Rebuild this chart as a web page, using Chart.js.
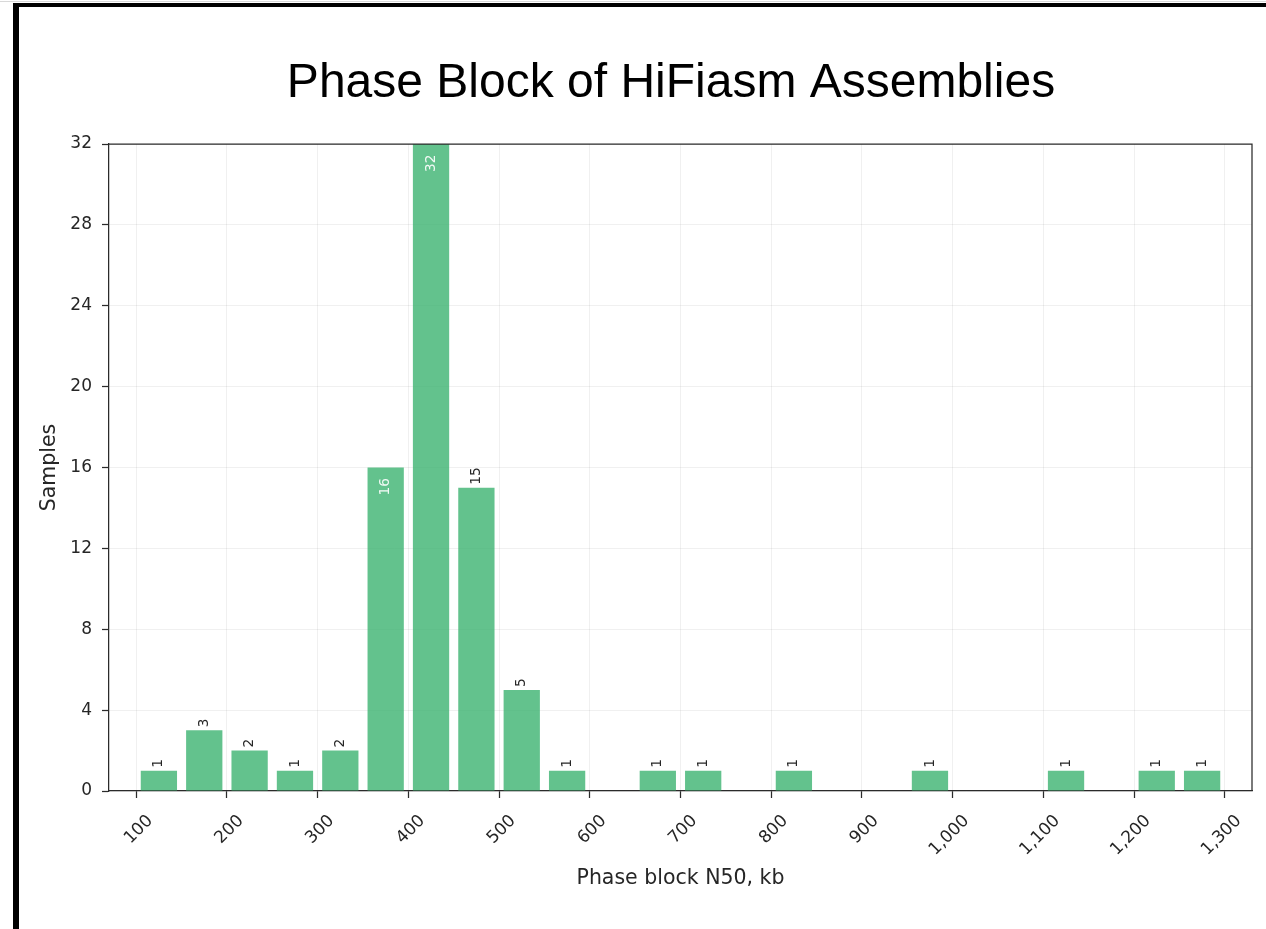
<!DOCTYPE html>
<html>
<head>
<meta charset="utf-8">
<script src="https://cdn.jsdelivr.net/npm/chart.js@4/dist/chart.umd.min.js"></script>
<style>
html,body{margin:0;padding:0;background:#fff;}
#wrap{position:relative;width:1266px;height:929px;overflow:hidden;background:#fff;}
canvas{position:absolute;left:0;top:0;}
#frame{position:absolute;left:13px;top:3px;width:1300px;height:1000px;border-top:4px solid #000;border-left:6px solid #000;pointer-events:none;}
#frametop{position:absolute;left:0;top:1px;width:1266px;height:1px;background:#d8d8d8;pointer-events:none;}
</style>
</head>
<body>
<div id="wrap">
  <canvas id="c" width="1266" height="929"></canvas>
  <div id="frametop"></div>
  <div id="frame"></div>
</div>
<script>
const chartTitle = 'Phase Block of HiFiasm Assemblies';
const xAxisLabel = 'Phase block N50, kb';
const yAxisLabel = 'Samples';

// histogram bins (50 kb wide), centre of each bin
const binCenters = [125, 175, 225, 275, 325, 375, 425, 475, 525, 575, 625, 675,
                    725, 775, 825, 875, 925, 975, 1025, 1075, 1125, 1175, 1225, 1275];
const sampleCounts = [1, 3, 2, 1, 2, 16, 32, 15, 5, 1, 0, 1,
                      1, 0, 1, 0, 0, 1, 0, 0, 1, 0, 1, 1];

const xTickValues = [100, 200, 300, 400, 500, 600, 700, 800, 900, 1000, 1100, 1200, 1300];
const xTickLabels = ['100', '200', '300', '400', '500', '600', '700', '800', '900',
                     '1,000', '1,100', '1,200', '1,300'];
const yTickValues = [0, 4, 8, 12, 16, 20, 24, 28, 32];
const yTickLabels = ['0', '4', '8', '12', '16', '20', '24', '28', '32'];

const textColor = '#262626';
const spineColor = '#2b2b2b';
const gridColor = 'rgba(0,0,0,0.06)';
const barColor = 'rgba(60,179,113,0.8)';

const titlePlugin = {
  id: 'customTitle',
  afterDraw(chart) {
    const ctx = chart.ctx;
    const a = chart.chartArea;
    ctx.save();
    ctx.font = '48px "Liberation Sans", Arial, sans-serif';
    ctx.fillStyle = '#000';
    ctx.textAlign = 'center';
    ctx.textBaseline = 'alphabetic';
    ctx.fillText(chartTitle, (a.left + a.right) / 2 - 9.5, 97);
    ctx.restore();
  }
};

const spinePlugin = {
  id: 'spines',
  afterDraw(chart) {
    const ctx = chart.ctx;
    const a = chart.chartArea;
    ctx.save();
    ctx.strokeStyle = spineColor;
    ctx.lineWidth = 1.25;
    ctx.beginPath();
    ctx.moveTo(a.left, a.top);
    ctx.lineTo(a.right, a.top);
    ctx.lineTo(a.right, a.bottom);
    ctx.stroke();
    ctx.restore();
  }
};

const barLabelPlugin = {
  id: 'barLabels',
  afterDatasetsDraw(chart) {
    const ctx = chart.ctx;
    const meta = chart.getDatasetMeta(0);
    meta.data.forEach((bar, i) => {
      const v = sampleCounts[i];
      if (!v) return;
      const inside = v >= 16;
      ctx.save();
      ctx.font = '13.7px "DejaVu Sans", sans-serif';
      ctx.textBaseline = 'middle';
      ctx.translate(bar.x, inside ? bar.y + 10.5 : bar.y - 3);
      ctx.rotate(-Math.PI / 2);
      ctx.textAlign = inside ? 'right' : 'left';
      ctx.fillStyle = inside ? 'rgba(255,255,255,0.92)' : textColor;
      ctx.fillText(String(v), 0, 0);
      ctx.restore();
    });
  }
};

new Chart(document.getElementById('c'), {
  type: 'bar',
  data: {
    datasets: [{
      data: binCenters.map((x, i) => ({ x: x, y: sampleCounts[i] })),
      backgroundColor: barColor,
      borderWidth: 0,
      barPercentage: 0.8,
      categoryPercentage: 1.0
    }]
  },
  options: {
    responsive: false,
    animation: false,
    devicePixelRatio: 1,
    layout: { padding: { left: 0, top: 144, right: 14, bottom: 0 } },
    plugins: {
      legend: { display: false },
      title: { display: false },
      tooltip: { enabled: false }
    },
    scales: {
      x: {
        type: 'linear',
        min: 70,
        max: 1330,
        offset: false,
        afterBuildTicks: s => { s.ticks = xTickValues.map(v => ({ value: v })); },
        afterFit: s => { s.height = 138; },
        grid: { offset: false, color: gridColor, lineWidth: 1, tickColor: spineColor, tickLength: 7, tickWidth: 1.25 },
        border: { color: spineColor, width: 1.25 },
        ticks: {
          autoSkip: false,
          maxRotation: 45,
          minRotation: 45,
          padding: 13,
          labelOffset: 14,
          color: textColor,
          font: { family: 'DejaVu Sans', size: 17 },
          callback: (v) => xTickLabels[xTickValues.indexOf(v)]
        },
        title: {
          display: true,
          text: xAxisLabel,
          color: textColor,
          font: { family: 'DejaVu Sans', size: 20.5 },
          padding: { top: 0, bottom: 38 }
        }
      },
      y: {
        min: 0,
        max: 32,
        afterBuildTicks: s => { s.ticks = yTickValues.map(v => ({ value: v })); },
        afterFit: s => { s.width = 109; },
        grid: { color: gridColor, lineWidth: 1, tickColor: spineColor, tickLength: 7, tickWidth: 1.25 },
        border: { color: spineColor, width: 1.25 },
        ticks: {
          padding: 10,
          color: textColor,
          font: { family: 'DejaVu Sans', size: 17 },
          callback: (v) => yTickLabels[yTickValues.indexOf(v)]
        },
        title: {
          display: true,
          text: yAxisLabel,
          color: textColor,
          font: { family: 'DejaVu Sans', size: 20.5 },
          padding: { top: 37, bottom: 0 }
        }
      }
    }
  },
  plugins: [titlePlugin, spinePlugin, barLabelPlugin]
});
</script>
</body>
</html>
